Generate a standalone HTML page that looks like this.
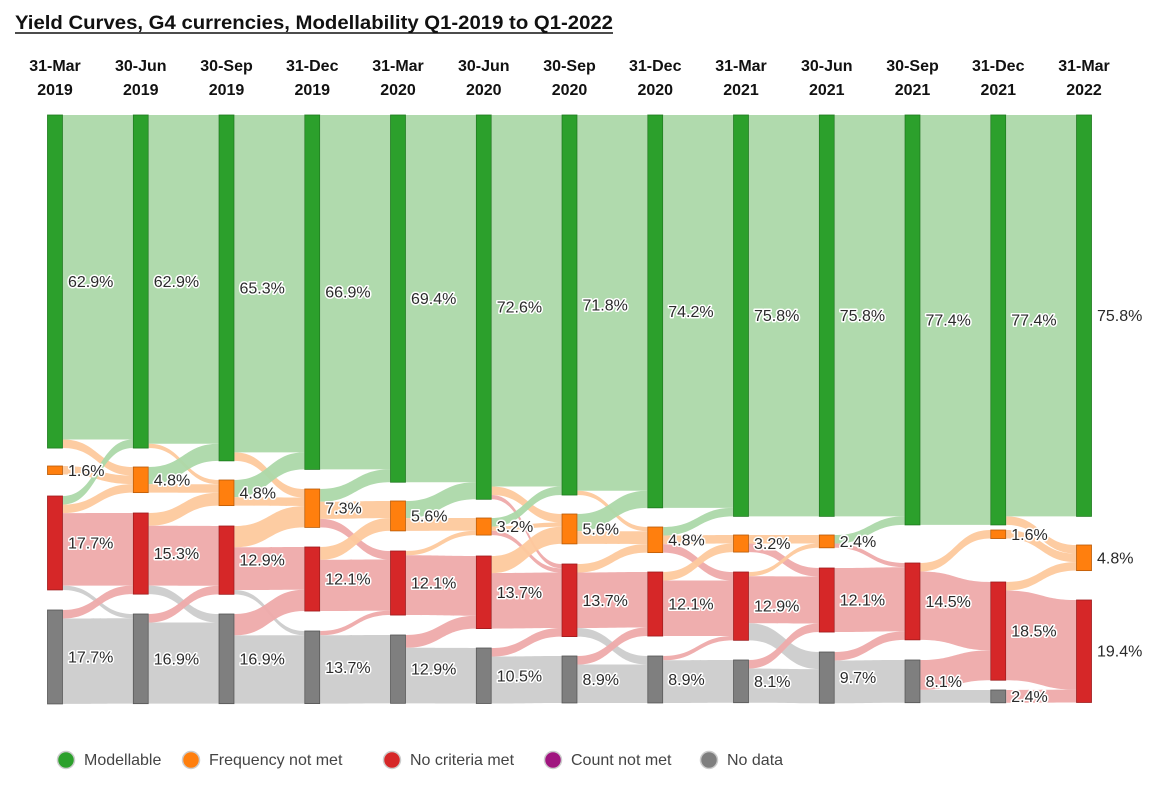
<!DOCTYPE html>
<html><head><meta charset="utf-8">
<style>
html,body{margin:0;padding:0;background:#fff;}
svg{display:block;font-family:"Liberation Sans",Arial,sans-serif;}
.lbl{font-size:16px;fill:#2a2a2a;paint-order:stroke;stroke:#fff;stroke-width:3px;stroke-linejoin:round;}
.hdr{font-size:16px;font-weight:bold;fill:#111;}
.leg{font-size:16px;fill:#444;}
</style></head>
<body>
<svg id="chart" width="1164" height="787" viewBox="0 0 1164 787" xmlns="http://www.w3.org/2000/svg">
<text x="15" y="29" font-size="19" font-weight="bold" fill="#111" textLength="598" lengthAdjust="spacingAndGlyphs">Yield Curves, G4 currencies, Modellability Q1-2019 to Q1-2022</text>
<line x1="15" y1="33" x2="613" y2="33" stroke="#111" stroke-width="1.5"/>
<g id="links"></g>
<g id="nodes"></g>
<g id="labels"></g>
<g id="headers"></g>
<g id="legend"></g>
</svg>
<script>
// ---- data ----
const total = 124;
const dayLabels = ["31-Mar","30-Jun","30-Sep","31-Dec","31-Mar","30-Jun","30-Sep","31-Dec","31-Mar","30-Jun","30-Sep","31-Dec","31-Mar"];
const yearLabels = ["2019","2019","2019","2019","2020","2020","2020","2020","2021","2021","2021","2021","2022"];
const categories = ["Modellable","Frequency not met","No criteria met","Count not met","No data"];
// node counts per column: [Modellable, Frequency not met, No criteria met, No data]
const modellable = [78,78,81,83,86,90,89,92,94,94,96,96,94];
const freqNotMet = [2,6,6,9,7,4,7,6,4,3,0,2,6];
const noCriteria = [22,19,16,15,15,17,17,15,16,15,18,23,24];
const noData     = [22,21,21,17,16,13,11,11,10,12,10,3,0];
// flows between consecutive columns: [source, target, count]  (0=Modellable,1=Freq,2=NoCrit,3=NoData)
const flows = [
 [[0,0,76],[0,1,2],[1,1,2],[2,0,2],[2,1,2],[2,2,17],[2,3,1],[3,2,2],[3,3,20]],
 [[0,0,77],[0,1,1],[1,0,4],[1,1,2],[2,1,3],[2,2,14],[2,3,2],[3,2,2],[3,3,19]],
 [[0,0,79],[0,1,2],[1,0,4],[1,1,2],[2,1,5],[2,2,10],[2,3,1],[3,2,5],[3,3,16]],
 [[0,0,83],[1,0,3],[1,1,4],[1,2,2],[2,1,3],[2,2,12],[3,2,1],[3,3,16]],
 [[0,0,86],[1,0,4],[1,1,3],[2,1,1],[2,2,14],[3,2,3],[3,3,13]],
 [[0,0,87],[0,1,2],[0,2,1],[1,0,2],[1,1,1],[1,2,1],[2,1,4],[2,2,13],[3,2,2],[3,3,11]],
 [[0,0,88],[0,1,1],[1,0,4],[1,1,3],[2,1,2],[2,2,13],[2,3,2],[3,2,2],[3,3,9]],
 [[0,0,92],[1,0,2],[1,1,2],[1,2,2],[2,1,2],[2,2,13],[3,2,1],[3,3,10]],
 [[0,0,94],[1,1,2],[1,2,2],[2,1,1],[2,2,11],[2,3,4],[3,2,2],[3,3,8]],
 [[0,0,94],[1,0,2],[1,2,1],[2,2,15],[3,2,2],[3,3,10]],
 [[0,0,96],[2,1,2],[2,2,16],[3,2,7],[3,3,3]],
 [[0,0,94],[0,1,2],[1,1,2],[2,1,2],[2,2,21],[3,2,3]]
];
// ---- layout (pixel positions, not data) ----
const nodeTops = [
 [115,466,496,610],[115,467,513,614],[115,480,526,614],[115,489,547,631],
 [115,501,551,635],[115,518,556,648],[115,514,564,656],[115,527,572,656],
 [115,535,572,660],[115,535,568,652],[115,540,563,660],[115,530,582,690],[115,545,600,690]];
const unit = 4.27, nodeW = 16, x0 = 47, colStep = 85.75;
const nodeFill = ["#2ca02c","#ff7f0e","#d62728","#7f7f7f"];
const nodeStroke = ["#1f7a1f","#b85a08","#9e1b1c","#555"];
const linkFill = ["#acd8a9","#fdc99d","#eeaaaa","#cccccc"];
const NS = "http://www.w3.org/2000/svg";
const counts = modellable.map((v,i)=>[v,freqNotMet[i],noCriteria[i],noData[i]]);
const colX = i => x0 + i*colStep;
const yScale = c => c*unit;
const nameKeys = ["modellable","frequency-not-met","no-criteria-met","no-data"];

const linksG = document.getElementById("links");
flows.forEach((fl,t)=>{
  const outOff=[0,0,0,0], inOff=[0,0,0,0];
  const bySrc=[...fl].sort((a,b)=>a[0]-b[0]||a[1]-b[1]);
  const pos=new Map();
  bySrc.forEach(f=>{pos.set(f,{sy:nodeTops[t][f[0]]+outOff[f[0]]}); outOff[f[0]]+=yScale(f[2]);});
  const byTgt=[...fl].sort((a,b)=>a[1]-b[1]||a[0]-b[0]);
  byTgt.forEach(f=>{pos.get(f).ty=nodeTops[t+1][f[1]]+inOff[f[1]]; inOff[f[1]]+=yScale(f[2]);});
  fl.forEach(f=>{
    const p=pos.get(f), h=yScale(f[2]);
    const xa=colX(t)+nodeW, xb=colX(t+1), xm=(xa+xb)/2;
    const d=`M${xa},${p.sy} C${xm},${p.sy} ${xm},${p.ty} ${xb},${p.ty} L${xb},${p.ty+h} C${xm},${p.ty+h} ${xm},${p.sy+h} ${xa},${p.sy+h} Z`;
    const path=document.createElementNS(NS,"path");
    path.setAttribute("d",d);
    path.setAttribute("fill",linkFill[f[1]]);
    path.setAttribute("fill-opacity","0.95");
    
    
    linksG.appendChild(path);
  });
});

const nodesG=document.getElementById("nodes"), labelsG=document.getElementById("labels"), hdrG=document.getElementById("headers");
counts.forEach((col,i)=>{
  col.forEach((c,k)=>{
    if(!c) return;
    const y=nodeTops[i][k], h=yScale(c);
    const r=document.createElementNS(NS,"rect");
    r.setAttribute("x",colX(i)+0.5); r.setAttribute("y",y); r.setAttribute("width",nodeW-1); r.setAttribute("height",h);
    r.setAttribute("fill",nodeFill[k]); r.setAttribute("stroke",nodeStroke[k]); r.setAttribute("stroke-width","0.8");
    
    
    nodesG.appendChild(r);
    const tx=document.createElementNS(NS,"text");
    tx.setAttribute("class","lbl");
    tx.setAttribute("x",colX(i)+nodeW+5); tx.setAttribute("y",y+h/2+5.5);
    tx.textContent=(c/total*100).toFixed(1)+"%";
    
    
    labelsG.appendChild(tx);
  });
  const cx=colX(i)+nodeW/2;
  [[dayLabels[i],71],[yearLabels[i],95]].forEach(([s,y])=>{
    const t=document.createElementNS(NS,"text");
    t.setAttribute("class","hdr"); t.setAttribute("x",cx); t.setAttribute("y",y); t.setAttribute("text-anchor","middle");
    t.textContent=s;
    
    
    hdrG.appendChild(t);
  });
});

const legG=document.getElementById("legend");
const legColors=["#2ca02c","#ff7f0e","#d62728","#a0157f","#7f7f7f"];
const legX=[66,191,392,553,709];
categories.forEach((c,i)=>{
  const g=document.createElementNS(NS,"g");
  
  
  const ci=document.createElementNS(NS,"circle");
  ci.setAttribute("cx",legX[i]); ci.setAttribute("cy",760); ci.setAttribute("r",8.5);
  ci.setAttribute("fill",legColors[i]);
  ci.setAttribute("stroke","#ccc"); ci.setAttribute("stroke-width","1.5");
  g.appendChild(ci);
  const t=document.createElementNS(NS,"text");
  t.setAttribute("class","leg"); t.setAttribute("x",legX[i]+18); t.setAttribute("y",765);
  t.textContent=c;
  g.appendChild(t);
  legG.appendChild(g);
});
</script>
</body></html>
